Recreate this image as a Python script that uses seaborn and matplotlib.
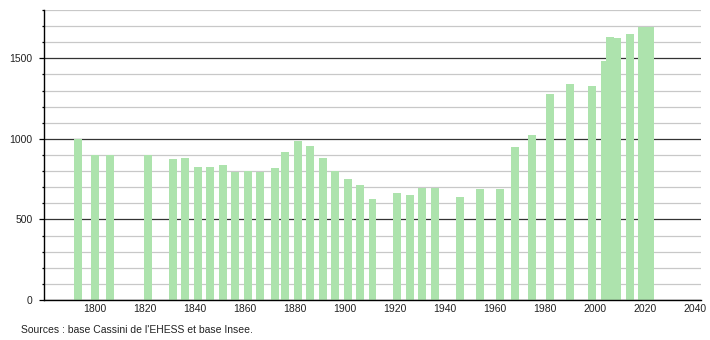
import matplotlib
matplotlib.use("Agg")
import matplotlib.pyplot as plt
from matplotlib.ticker import MultipleLocator
import seaborn as sns
import pandas as pd

years = [1793, 1800, 1806, 1821, 1831, 1836, 1841, 1846, 1851, 1856, 1861, 1866,
         1872, 1876, 1881, 1886, 1891, 1896, 1901, 1906, 1911, 1921, 1926, 1931,
         1936, 1946, 1954, 1962, 1968, 1975, 1982, 1990, 1999, 2004, 2006, 2009,
         2014, 2019, 2022]
population = [1000, 902, 900, 898, 877, 879, 827, 824, 835, 796, 800, 796,
              817, 916, 989, 954, 884, 798, 748, 713, 628, 663, 653, 694,
              696, 642, 688, 688, 952, 1024, 1278, 1338, 1326, 1484, 1632, 1625,
              1652, 1694, 1694]
x_ticks = list(range(1800, 2041, 20))
y_ticks = [0, 500, 1000, 1500]
source = "Sources : base Cassini de l'EHESS et base Insee."

plt.rcParams['font.family'] = ['Liberation Sans', 'DejaVu Sans']

df = pd.DataFrame({"year": years, "pop": population})

fig = plt.figure(figsize=(7.1, 3.4), dpi=100)
ax = fig.add_axes([44.3 / 710, 40 / 340, (700.7 - 44.3) / 710, 290 / 340])

sns.barplot(data=df, x="year", y="pop", native_scale=True, width=1.6,
            color="#ade3ad", saturation=1, linewidth=0, ax=ax, zorder=3)

ax.set_xlim(1779.7, 2042.3)
ax.set_ylim(0, 1800)
ax.set_xticks(x_ticks)
ax.set_xticklabels([str(t) for t in x_ticks])
ax.set_yticks(y_ticks)
ax.set_yticklabels([str(t) for t in y_ticks])
ax.yaxis.set_minor_locator(MultipleLocator(100))
ax.set_xlabel("")
ax.set_ylabel("")

ax.set_axisbelow(True)
ax.yaxis.grid(True, which='minor', color='#c8c8c8', linewidth=0.9, zorder=0)
ax.yaxis.grid(True, which='major', color='#333333', linewidth=0.9, zorder=1)
ax.xaxis.grid(False)

for s in ['top', 'right']:
    ax.spines[s].set_visible(False)
for s in ['left', 'bottom']:
    ax.spines[s].set_color('black')
    ax.spines[s].set_linewidth(1.0)
    ax.spines[s].set_zorder(5)

ax.tick_params(axis='x', length=0, pad=3, labelsize=7.5, colors='#222222')
ax.tick_params(axis='y', which='major', length=3.6, width=0.9, pad=5,
               labelsize=7.5, color='black', labelcolor='#222222')
ax.tick_params(axis='y', which='minor', length=1.7, width=0.9, color='black')

fig.text(20.7 / 710, 1 - 330 / 340, source, fontsize=7.5, va='center',
         ha='left', color='#222222')

fig.savefig("out.png", dpi=100)
